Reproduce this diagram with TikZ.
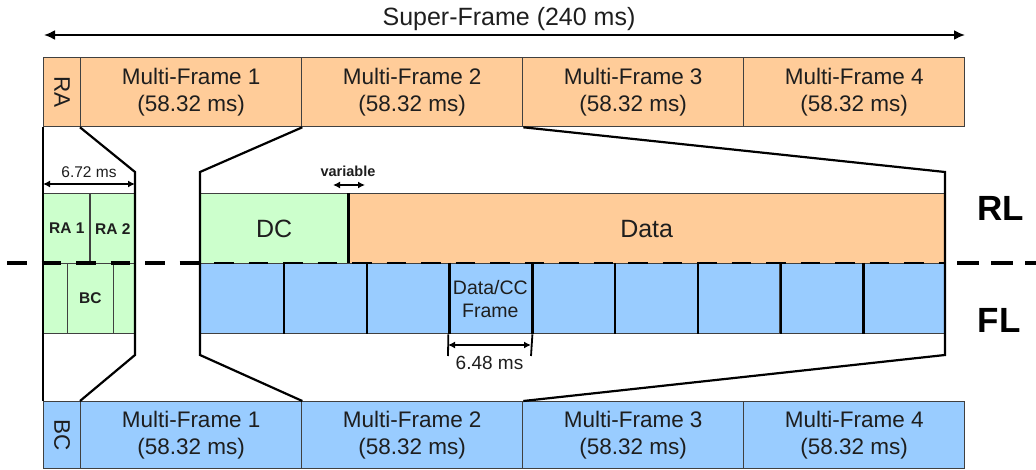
\documentclass[tikz,border=0pt]{standalone}
\usepackage{fontspec}
\setmainfont{Liberation Sans}
\usetikzlibrary{arrows.meta}
\definecolor{rlor}{HTML}{FFCC99}
\definecolor{grn}{HTML}{CCFFCC}
\definecolor{blu}{HTML}{99CCFF}
\definecolor{txt}{HTML}{1E1E1E}
\newcommand\fs[1]{\fontsize{#1}{1.17\dimexpr#1pt\relax}\selectfont}
\begin{document}
\begin{tikzpicture}[x=1pt,y=-1pt,
  cell/.style={draw=black!75, line width=1.3pt, anchor=north west, inner sep=0pt, align=center, text=txt},
  mf/.style={cell, minimum width=221, font=\fs{22.5}},
  sm/.style={cell, fill=grn, font=\bfseries\fs{15.5}},
  fl/.style={cell, fill=blu, minimum width=82.78, minimum height=70},
  trap/.style={line width=2.2pt, black, line join=miter},
  div/.style={line width=2.4pt, black},
  dim/.style={line width=1.8pt, black, {Latex[length=7,width=7]}-{Latex[length=7,width=7]}},
  lbl/.style={text=txt, inner sep=0pt}]
\useasboundingbox (0,0) rectangle (1036,470);
% title
\node[lbl, font=\fs{25}] (title) at (509,19) {Super-Frame (240 ms)};
\coordinate (sfL) at (44,35);
\coordinate (sfR) at (965,35);
\draw[line width=2pt, {Latex[length=11,width=10]}-{Latex[length=11,width=10]}] (sfL) -- (sfR);
% top row (RA)
\node[cell, fill=rlor, minimum width=37, minimum height=69, font=\fs{22.5}] (tra) at (43,57) {\rotatebox{-90}{RA}};
\node[mf, fill=rlor, minimum height=69] (tmf1) at (80,57) {Multi-Frame 1\\(58.32 ms)};
\node[mf, fill=rlor, minimum height=69] (tmf2) at (301,57) {Multi-Frame 2\\(58.32 ms)};
\node[mf, fill=rlor, minimum height=69] (tmf3) at (522,57) {Multi-Frame 3\\(58.32 ms)};
\node[mf, fill=rlor, minimum height=69] (tmf4) at (743,57) {Multi-Frame 4\\(58.32 ms)};
% bottom row (BC)
\node[cell, fill=blu, minimum width=37, minimum height=67, font=\fs{22.5}] (bbc) at (43,401) {\rotatebox{-90}{BC}};
\node[mf, fill=blu, minimum height=67] (bmf1) at (80,401) {Multi-Frame 1\\(58.32 ms)};
\node[mf, fill=blu, minimum height=67] (bmf2) at (301,401) {Multi-Frame 2\\(58.32 ms)};
\node[mf, fill=blu, minimum height=67] (bmf3) at (522,401) {Multi-Frame 3\\(58.32 ms)};
\node[mf, fill=blu, minimum height=67] (bmf4) at (743,401) {Multi-Frame 4\\(58.32 ms)};
% left detail (RA slots / BC)
\node[sm, minimum width=46.3, minimum height=70] (ra1) at (43,193) {RA 1};
\node[sm, minimum width=45.7, minimum height=70] (ra2) at (89.3,193) {RA 2};
\node[sm, minimum width=23.7, minimum height=70] (bc1) at (43,263) {};
\node[sm, minimum width=46, minimum height=70] (bc2) at (66.7,263) {BC};
\node[sm, minimum width=22.3, minimum height=70] (bc3) at (112.7,263) {};
% right detail RL
\node[cell, fill=grn, minimum width=147, minimum height=70, font=\fs{25}] (dc) at (200,193) {DC};
\node[cell, fill=rlor, minimum width=598, minimum height=70, font=\fs{25}] (data) at (347,193) {Data};
\draw[div] (dc.north east) -- (dc.south east);
% FL frames
\foreach \i in {1,...,9}{
  \node[fl] (f\i) at ({200+(\i-1)*82.78},263) {};
}
\node[lbl, align=center, font=\fs{19.5}] (fcc) at (f4.center) {Data/CC\\Frame};
\foreach \i in {1,...,8}{
  \draw[div] (f\i.north east) -- (f\i.south east);
}
% zoom lines
\coordinate (lA) at (135,172);
\coordinate (lB) at (135,355);
\coordinate (rA) at (200,172);
\coordinate (rB) at (200,355);
\coordinate (eA) at (945,172);
\coordinate (eB) at (945,355);
\draw[trap] (tmf1.south west) -- (lA) -- (lB) -- (bmf1.north west);
\draw[trap] (tmf1.south east) -- (rA) -- (rB) -- (bmf1.north east);
\draw[trap] (tmf2.south east) -- (eA) -- (eB) -- (bmf2.north east);
\draw[trap] (tra.south west) -- (bbc.north west);
% dimensions
\coordinate (d1L) at (43,184);
\coordinate (d1R) at (135,184);
\draw[dim] (d1L) -- (d1R);
\node[lbl, font=\fs{15.5}] (l672) at (89,172) {6.72 ms};
\coordinate (vL) at (333,185);
\coordinate (vR) at (365,185);
\draw[dim] (vL) -- (vR);
\node[lbl, font=\bfseries\fs{14.5}] (lvar) at (348,171) {variable};
\coordinate (t1) at (448,356);
\coordinate (t2) at (531,356);
\draw[div, line width=1.8pt] (f4.south west) -- (t1);
\draw[div, line width=1.8pt] (f4.south east) -- (t2);
\coordinate (m1) at (448,345);
\coordinate (m2) at (531,345);
\draw[dim] (m1) -- (m2);
\node[lbl, font=\fs{19}] (l648) at (489.5,363) {6.48 ms};
% link labels
\node[lbl, font=\bfseries\fs{35}, text=black] (rl) at (1001,208) {RL};
\node[lbl, font=\bfseries\fs{35}, text=black] (fll) at (999,320) {FL};
% dashed separator
\coordinate (s0) at (7,263);
\coordinate (s1) at (200,263);
\coordinate (s2) at (945,263);
\coordinate (s3) at (1036,263);
\draw[black, line width=4pt, dash pattern=on 19.5pt off 15pt] (s0) -- (s1);
\draw[black, line width=2.2pt, dash pattern=on 19.5pt off 15pt, dash phase=20.5pt] (s1) -- (s2);
\draw[black, line width=4pt, dash pattern=on 22pt off 12pt, dash phase=-12pt] (s2) -- (s3);
\end{tikzpicture}
\end{document}
